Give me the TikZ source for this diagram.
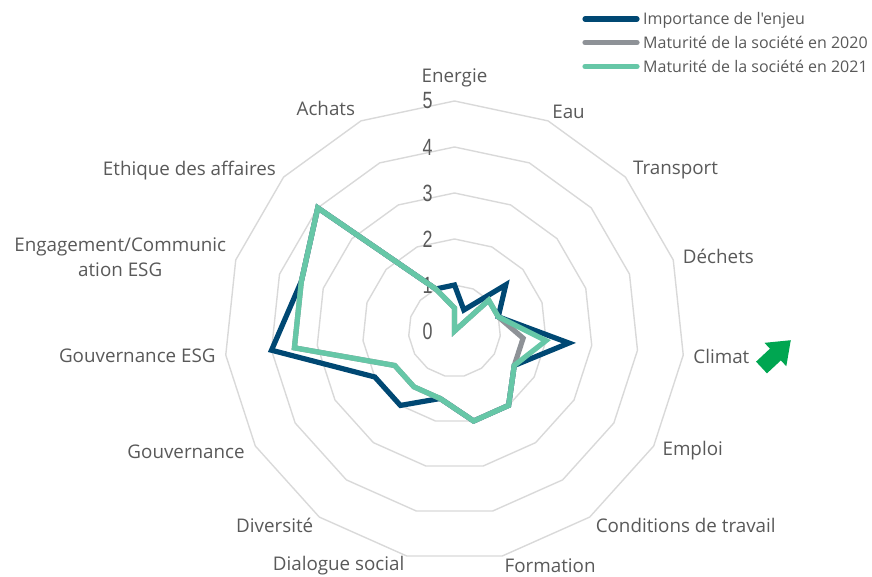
\documentclass[tikz,border=0pt]{standalone}
\usepackage{fontspec}
\setmainfont{Open Sans}
\newfontfamily\legfont{Open Sans}
\newfontfamily\numfont{Liberation Sans}
\usetikzlibrary{positioning}

\definecolor{enjeublue}{RGB}{0,72,115}
\definecolor{matgray}{RGB}{142,146,151}
\definecolor{matgreen}{RGB}{102,199,167}
\definecolor{gridgray}{RGB}{217,217,217}
\definecolor{txtgray}{RGB}{89,89,89}
\definecolor{upgreen}{RGB}{0,166,81}

\begin{document}
\begin{tikzpicture}[x=1pt, y=1pt,
    grid/.style={draw=gridgray, line width=1.4pt},
    serie/.style={line width=5.2pt},
    imp/.style={serie, draw=enjeublue},
    mat20/.style={serie, draw=matgray},
    mat21/.style={serie, draw=matgreen},
    lab/.style={text=txtgray, font=\fontsize{18.8}{25}\selectfont,
      inner sep=0pt, align=center},
    scl/.style={text=txtgray, font=\fontsize{23.5}{24}\numfont, inner sep=0pt},
    leg/.style={text=txtgray, font=\fontsize{16}{19}\legfont, inner sep=0pt}
]
  \useasboundingbox (0,0) rectangle (872,576);

  \begin{scope}[shift={(454.5,245)}]
    % rings
    \foreach \k in {1,...,5}
      \draw[grid] (90:46*\k) \foreach \i in {1,...,14}{ -- (90-24*\i:46*\k)} -- cycle;

    % axis labels
    \foreach \t/\a/\r [count=\i from 0] in {Energie/south/244, Eau/west/240,
        Transport/west/240, Déchets/west/240, Climat/west/240, Emploi/west/240,
        Conditions de travail/west/240, Formation/west/240,
        Dialogue social/east/240, Diversité/east/240, Gouvernance/east/242,
        Gouvernance ESG/east/240, {Engagement/Communic\\ation ESG}/east/240,
        Ethique des affaires/east/240, Achats/east/244}
      \node[lab, anchor=\a] (ax\i) at (90-24*\i:\r) {\t};

    % scale
    \foreach \k in {0,...,5}
      \node[scl] (s\k) at (-27,46*\k) {\scalebox{0.76}[1]{\k}};

    % series
    \foreach \v [count=\i from 0] in {1,0.5,1.5,1,2.5,1.5,2,2,1.5,2,2,4,3.5,4,1}
      \coordinate (b\i) at (90-24*\i:46*\v);
    \foreach \v [count=\i from 0] in {0.5,0,1,1,1.5,1.5,2,2,1.5,1.5,1.5,3.5,3.5,4,1}
      \coordinate (g\i) at (90-24*\i:46*\v);
    \foreach \v [count=\i from 0] in {0.5,0,1,1,2,1.5,2,2,1.5,1.5,1.5,3.5,3.5,4,1}
      \coordinate (v\i) at (90-24*\i:46*\v);

    \draw[imp] (b0) \foreach \i in {1,...,14}{ -- (b\i)} -- cycle;
    \draw[mat20] (g0) \foreach \i in {1,...,14}{ -- (g\i)} -- cycle;
    \draw[mat21] (v0) \foreach \i in {1,...,14}{ -- (v\i)} -- cycle;
  \end{scope}

  % arrow next to Climat
  \fill[upgreen, shift={(761.5,208.5)}, rotate=43]
    (0,-8) -- (19,-8) -- (19,-16) -- (40,0) -- (19,16) -- (19,8) -- (0,8) -- cycle;

  % legend
  \node[leg, anchor=base west] (l1) at (643,551) {Importance de l'enjeu};
  \node[leg, anchor=base west] (l2) at (643,527.5) {Maturité de la société en 2020};
  \node[leg, anchor=base west] (l3) at (643,503.5) {Maturité de la société en 2021};
  \draw[imp, line cap=round] ([xshift=-6,yshift=6]l1.base west) -- ++(-52,0);
  \draw[mat20, line cap=round] ([xshift=-6,yshift=6]l2.base west) -- ++(-52,0);
  \draw[mat21, line cap=round] ([xshift=-6,yshift=6]l3.base west) -- ++(-52,0);
\end{tikzpicture}
\end{document}
